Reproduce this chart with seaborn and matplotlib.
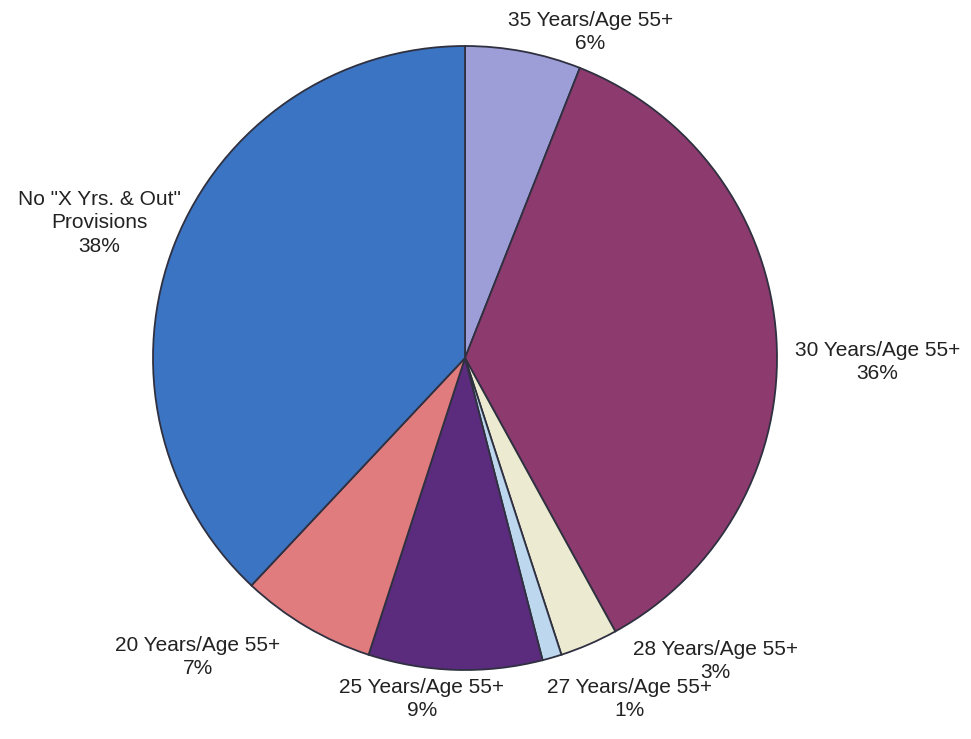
import matplotlib
matplotlib.use("Agg")
import matplotlib.pyplot as plt
import seaborn as sns

# slices, clockwise from 12 o'clock
categories = ["35 Years/Age 55+", "30 Years/Age 55+", "28 Years/Age 55+",
              "27 Years/Age 55+", "25 Years/Age 55+", "20 Years/Age 55+",
              'No "X Yrs. & Out"\nProvisions']
shares = [6, 36, 3, 1, 9, 7, 38]
slice_colors = ["#9D9ED8", "#8D3A6F", "#EDEAD2", "#BDD7EE",
                "#5B2C7E", "#E07C7E", "#3A74C2"]

# label placement (data units, pie radius = 1)
label_pos = [(0.401, 1.045), (1.321, -0.013), (0.804, -0.971), (0.526, -1.093),
             (-0.138, -1.093), (-0.856, -0.958), (-1.173, 0.433)]

sns.set_theme(style="white")
plt.rcParams["font.family"] = ["Liberation Sans", "DejaVu Sans"]

fig = plt.figure(figsize=(9.71, 7.39), dpi=100)
ax = fig.add_axes([0, 0, 1, 1])
pal = sns.color_palette(slice_colors)

ax.pie(shares, colors=pal, startangle=90, counterclock=False, radius=1,
       wedgeprops=dict(edgecolor="#2f3040", linewidth=1.3))

for name, val, (x, y) in zip(categories, shares, label_pos):
    ax.text(x, y, f"{name}\n{val}%", ha="center", va="center",
            fontsize=15, color="#222222", linespacing=1.3)

ax.set_xlim(-465 / 312, 506 / 312)
ax.set_ylim(-381 / 312, 358 / 312)
ax.set_aspect("auto")
ax.axis("off")

fig.savefig("out.png", dpi=100, facecolor="white")
